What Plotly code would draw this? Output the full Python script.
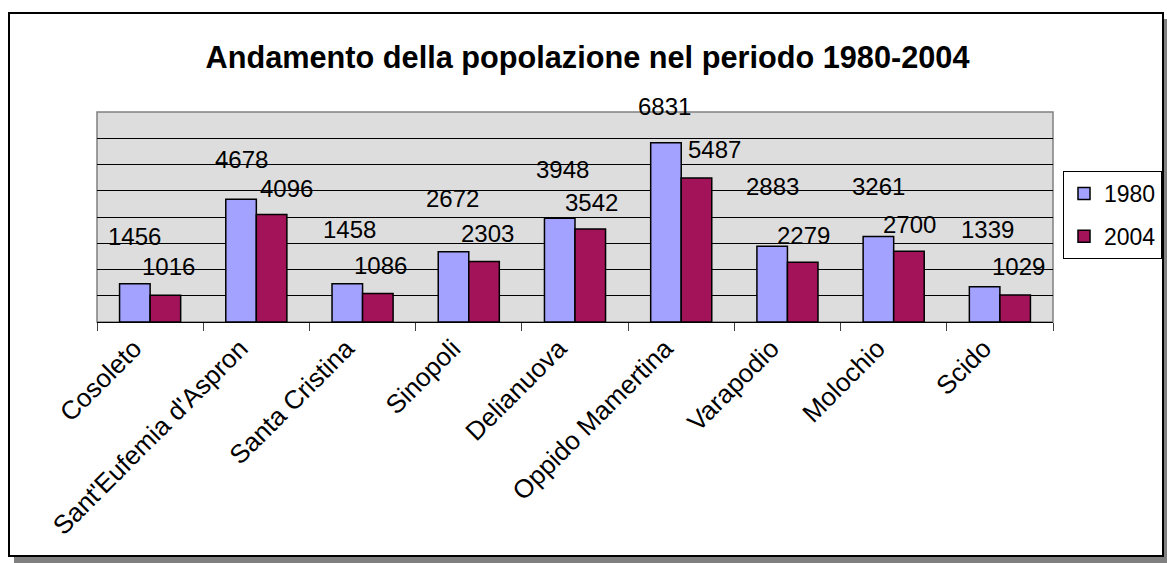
import plotly.graph_objects as go

# ---- data ----
categories = ["Cosoleto", "Sant'Eufemia d'Aspromonte", "Santa Cristina", "Sinopoli",
              "Delianuova", "Oppido Mamertina", "Varapodio", "Molochio", "Scido"]
tick_labels = ["Cosoleto", "Sant'Eufemia d'Aspron", "Santa Cristina", "Sinopoli",
               "Delianuova", "Oppido Mamertina", "Varapodio", "Molochio", "Scido"]
pop_1980 = [1456, 4678, 1458, 2672, 3948, 6831, 2883, 3261, 1339]
pop_2004 = [1016, 4096, 1086, 2303, 3542, 5487, 2279, 2700, 1029]
series_names = ["1980", "2004"]
title_text = "Andamento della popolazione nel periodo 1980-2004"

# ---- label placement (pixel offsets, styling only) ----
dy_1980 = [47, 40, 54, 53, 49, 36, 60, 50, 57]
dx_1980 = [0, 0, 2, -1, 3, -1, 0, 0, 3]
dy_2004 = [29, 26, 28, 28, 27, 28, 27, 27, 28]
dx_2004 = [3, 15, 3, 3, 1, 18, 1, 1, 3]

W, H = 1167, 563
L, R, T, B = 97, 1053, 112, 322  # plot area in px
col_1980 = "#A3A3FF"
col_2004 = "#A3135A"
FONT = "Liberation Sans, Arial, sans-serif"

fig = go.Figure()
fig.add_trace(go.Bar(x=categories, y=pop_1980, name=series_names[0], legendgroup="a",
                     marker=dict(color=col_1980, line=dict(color="black", width=1.5))))
fig.add_trace(go.Bar(x=categories, y=pop_2004, name=series_names[1], legendgroup="b",
                     marker=dict(color=col_2004, line=dict(color="black", width=1.5))))

half = (R - L) / len(categories) * (1 - 0.425) / 4  # half-group offset in px
for i, c in enumerate(categories):
    fig.add_annotation(x=c, y=pop_1980[i], xref="x", yref="y", text=str(pop_1980[i]),
                       showarrow=False, xanchor="center", yanchor="middle",
                       xshift=-half + dx_1980[i], yshift=dy_1980[i],
                       font=dict(family=FONT, size=24, color="black"))
    fig.add_annotation(x=c, y=pop_2004[i], xref="x", yref="y", text=str(pop_2004[i]),
                       showarrow=False, xanchor="center", yanchor="middle",
                       xshift=half + dx_2004[i], yshift=dy_2004[i],
                       font=dict(family=FONT, size=24, color="black"))


def px_x(p):  # window px -> paper
    return (p - L) / (R - L)


def px_y(p):
    return (B - p) / (B - T)


shapes = [
    dict(type="rect", xref="paper", yref="paper", x0=0, x1=1, y0=0, y1=1,
         line=dict(color="#808080", width=1.5), layer="below"),
    dict(type="rect", xref="paper", yref="paper", x0=px_x(14), x1=px_x(1167),
         y0=px_y(557), y1=px_y(563), fillcolor="#808080", line=dict(width=0)),
    dict(type="rect", xref="paper", yref="paper", x0=px_x(1163), x1=px_x(1167),
         y0=px_y(19), y1=px_y(563), fillcolor="#808080", line=dict(width=0)),
    dict(type="rect", xref="paper", yref="paper", x0=px_x(9), x1=px_x(1163),
         y0=px_y(556), y1=px_y(13), line=dict(color="black", width=2)),
]

fig.update_layout(
    width=W, height=H,
    margin=dict(l=L, r=W - R, t=T, b=H - B, pad=0),
    paper_bgcolor="white",
    plot_bgcolor="#DDDDDD",
    barmode="group", bargap=0.425, bargroupgap=0,
    font=dict(family=FONT, color="black"),
    title=dict(text="<b>" + title_text + "</b>", xref="container", yref="container",
               x=587.5 / W, y=1 - 57 / H, xanchor="center", yanchor="middle",
               font=dict(family=FONT, size=30.7, color="black")),
    legend=dict(xref="container", yref="container",
                x=1162 / W, y=1 - 171 / H, xanchor="right", yanchor="top",
                bordercolor="black", borderwidth=1, bgcolor="white",
                font=dict(family=FONT, size=23, color="black"),
                tracegroupgap=10, itemwidth=30, traceorder="grouped"),
    shapes=shapes,
    showlegend=True,
)
fig.update_xaxes(type="category", tickvals=categories, ticktext=tick_labels,
                 tickangle=-45, showline=True, linecolor="black", linewidth=1,
                 ticks="outside", tickson="boundaries", ticklen=8, tickcolor="#404040",
                 ticklabelshift=-16, ticklabelstandoff=0,
                 tickfont=dict(family=FONT, size=26, color="black"),
                 showgrid=False, automargin=False)
fig.update_yaxes(range=[0, 8000], tickvals=[1000, 2000, 3000, 4000, 5000, 6000, 7000],
                 showticklabels=False, showgrid=True, gridcolor="black", gridwidth=1,
                 zeroline=False, showline=False, automargin=False)

fig.write_html("out.html", config={"displayModeBar": False},
               post_script="document.body.style.margin='0';"
                           "document.body.style.overflow='hidden';")
